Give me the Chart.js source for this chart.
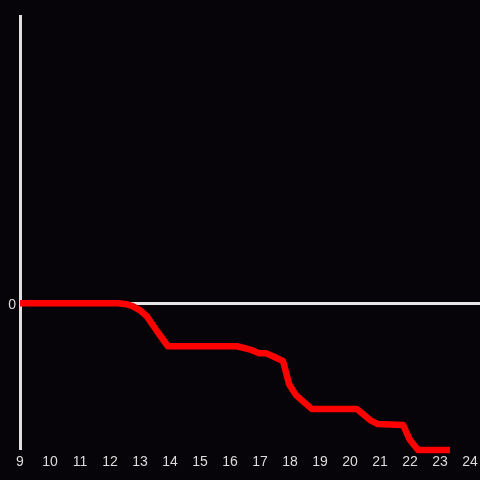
<!DOCTYPE html>
<html>
<head>
<meta charset="utf-8">
<script src="https://cdn.jsdelivr.net/npm/chart.js@4"></script>
<style>
  html, body { margin: 0; padding: 0; background: #060408; }
  #wrap { width: 480px; height: 480px; }
</style>
</head>
<body>
<div id="wrap"><canvas id="chart"></canvas></div>
<script>
// hours of the day (x) and the running value (y)
const hours = [9, 12.27, 12.57, 12.77, 13.0, 13.23, 13.57, 13.93, 16.23, 16.5, 16.73, 16.97, 17.2, 17.43, 17.77, 17.97, 18.2, 18.73, 20.23, 20.67, 20.93, 21.77, 22.0, 22.27, 23.33];
const values = [0, 0, -0.01, -0.03, -0.07, -0.13, -0.28, -0.43, -0.43, -0.45, -0.47, -0.5, -0.5, -0.53, -0.58, -0.81, -0.92, -1.06, -1.06, -1.17, -1.21, -1.22, -1.37, -1.47, -1.47];
const xTicks = [9, 10, 11, 12, 13, 14, 15, 16, 17, 18, 19, 20, 21, 22, 23, 24];
const yTicks = [0];

const points = hours.map((h, i) => ({ x: h, y: values[i] }));

new Chart(document.getElementById("chart"), {
  type: "line",
  data: {
    datasets: [{
      data: points,
      borderColor: "#ff0000",
      borderWidth: 6.5,
      pointRadius: 0,
      tension: 0,
      borderJoinStyle: "round",
      clip: false
    }]
  },
  options: {
    responsive: true,
    maintainAspectRatio: false,
    animation: false,
    layout: { padding: { top: 16, right: 0, left: 0, bottom: 0 } },
    plugins: { legend: { display: false }, tooltip: { enabled: false } },
    scales: {
      x: {
        type: "linear",
        min: 9,
        max: 24.333,
        afterBuildTicks: s => { s.ticks = xTicks.map(v => ({ value: v })); },
        afterFit: s => { s.height = 32; s.paddingLeft = 0; s.paddingRight = 0; },
        grid: { display: false, drawTicks: false },
        border: { display: false },
        ticks: {
          color: "#dcdcdc",
          padding: 6,
          maxRotation: 0,
          autoSkip: false,
          font: { family: "'Liberation Sans', Arial, sans-serif", size: 14 }
        }
      },
      y: {
        min: -1.45,
        max: 2.88,
        afterBuildTicks: s => { s.ticks = yTicks.map(v => ({ value: v })); },
        afterFit: s => { s.width = 20; },
        grid: {
          drawTicks: false,
          color: "#e6e6e6",
          lineWidth: 3
        },
        border: { display: true, color: "#e0e0e0", width: 3 },
        ticks: {
          color: "#dcdcdc",
          padding: 4,
          labelOffset: 2,
          font: { family: "'Liberation Sans', Arial, sans-serif", size: 14 }
        }
      }
    }
  }
});
</script>
</body>
</html>
